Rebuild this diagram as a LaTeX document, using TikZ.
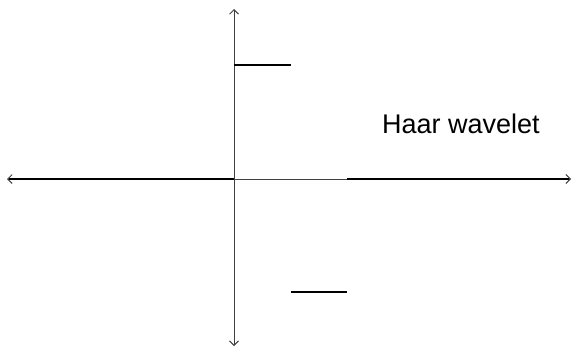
\documentclass[tikz,border=0pt]{standalone}
\usepackage{fontspec}
\setmainfont{Liberation Sans}
\usetikzlibrary{arrows.meta}
\begin{document}
\begin{tikzpicture}[x=1pt,y=-1pt,
  axis/.style={draw=black!75,line width=0.9pt,{Straight Barb[length=4.5pt,width=9pt]}-{Straight Barb[length=4.5pt,width=9pt]}},
  thickseg/.style={draw=black,line width=2.7pt},
  lbl/.style={font=\fontsize{27}{32}\selectfont,inner sep=0pt,anchor=base west}]
\useasboundingbox (0,0) rectangle (574,348);
\coordinate (xl) at (7,179);
\coordinate (xr) at (571,179);
\coordinate (yt) at (234,9);
\coordinate (yb) at (234,346);
\coordinate (o) at (234,179);
\coordinate (tl) at (234,65);
\coordinate (tr) at (291,65);
\coordinate (bl) at (291,292);
\coordinate (br) at (347,292);
\coordinate (ra) at (347,179);
\coordinate (xl2) at (9,179);
\coordinate (xr2) at (569,179);
\draw[axis] (xl) -- (xr);
\draw[axis] (yb) -- (yt);
\draw[thickseg] (xl2) -- (o);
\draw[thickseg] (ra) -- (xr2);
\draw[thickseg] (tl) -- (tr);
\draw[thickseg] (bl) -- (br);
\node[lbl] (title) at (382,133) {Haar wavelet};
\end{tikzpicture}
\end{document}
